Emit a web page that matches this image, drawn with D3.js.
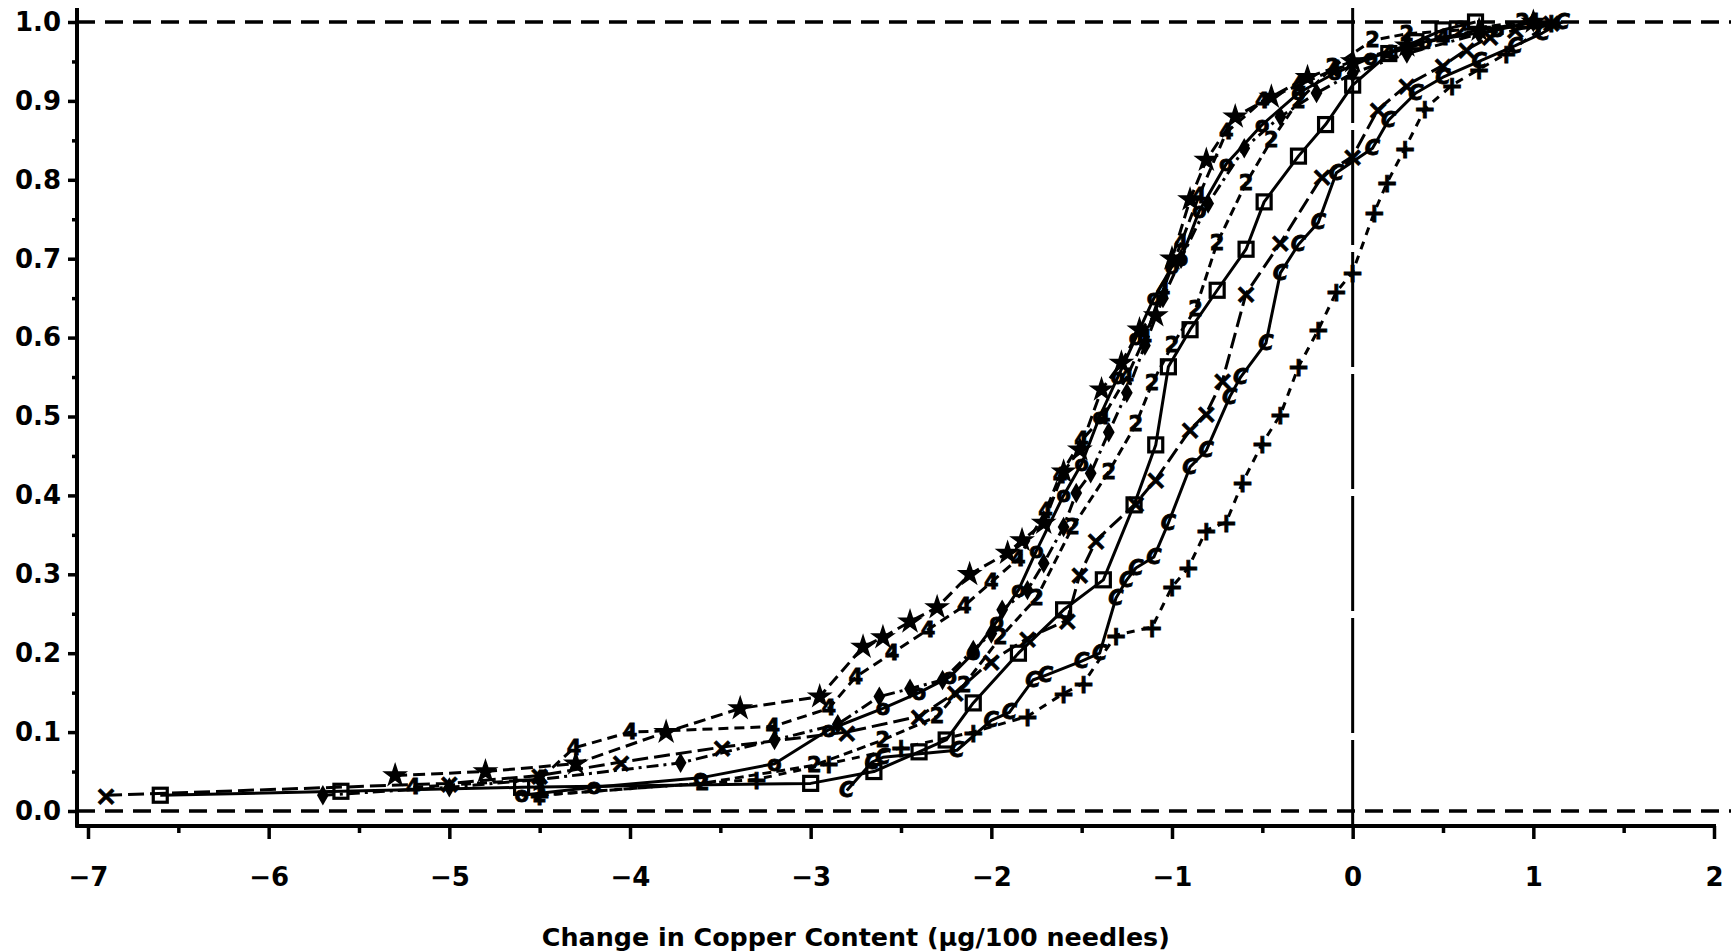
<!DOCTYPE html>
<html>
<head>
<meta charset="utf-8">
<script src="https://cdn.jsdelivr.net/npm/d3@7"></script>
<style>
  html, body { margin: 0; padding: 0; background: #fff; }
  svg { display: block; }
</style>
</head>
<body>
<svg id="chart" width="1731" height="951"></svg>
<script>
// ---------- data ----------
const xTickValues = [-7, -6, -5, -4, -3, -2, -1, 0, 1, 2];
const xMinorValues = [-6.5, -5.5, -4.5, -3.5, -2.5, -1.5, -0.5, 0.5, 1.5];
const yTickValues = [0, 0.1, 0.2, 0.3, 0.4, 0.5, 0.6, 0.7, 0.8, 0.9, 1.0];
const yMinorValues = [0.05, 0.15, 0.25, 0.35, 0.45, 0.55, 0.65, 0.75, 0.85, 0.95];
const xTitle = "Change in Copper Content (\u00b5g/100 needles)";

// "+" series (dashed)
const plusX = [-4.5, -3.3, -2.9, -2.5, -2.1, -1.8, -1.6, -1.49, -1.31, -1.11, -1.0, -0.91, -0.81, -0.70, -0.61, -0.50, -0.40, -0.30, -0.19, -0.09, 0.0, 0.12, 0.19, 0.29, 0.40, 0.55, 0.70, 0.85, 1.1];
const plusY = [0.02, 0.04, 0.06, 0.08, 0.10, 0.12, 0.149, 0.162, 0.223, 0.233, 0.284, 0.308, 0.356, 0.366, 0.416, 0.466, 0.502, 0.563, 0.61, 0.658, 0.683, 0.759, 0.796, 0.84, 0.89, 0.92, 0.94, 0.96, 1.0];
// "C" series (solid)
const cX = [-2.80, -2.66, -2.60, -2.19, -2.00, -1.90, -1.77, -1.70, -1.50, -1.40, -1.31, -1.25, -1.20, -1.10, -1.02, -0.90, -0.81, -0.68, -0.62, -0.48, -0.40, -0.30, -0.19, -0.09, 0.11, 0.20, 0.35, 0.50, 0.70, 0.90, 1.05, 1.16];
const cY = [0.026, 0.062, 0.068, 0.077, 0.115, 0.125, 0.166, 0.172, 0.19, 0.20, 0.27, 0.293, 0.308, 0.322, 0.365, 0.436, 0.457, 0.525, 0.55, 0.593, 0.682, 0.718, 0.746, 0.809, 0.84, 0.876, 0.91, 0.93, 0.95, 0.97, 0.986, 1.0];
// "X" series (long dash)
const xsX = [-6.9, -5.0, -4.5, -4.05, -3.49, -2.8, -2.4, -2.2, -2.0, -1.8, -1.58, -1.51, -1.42, -1.2, -1.09, -0.9, -0.81, -0.72, -0.59, -0.40, -0.17, 0.0, 0.14, 0.30, 0.5, 0.63, 0.76, 0.9, 1.1];
const xsY = [0.02, 0.035, 0.045, 0.062, 0.081, 0.10, 0.12, 0.15, 0.19, 0.219, 0.242, 0.30, 0.343, 0.39, 0.42, 0.483, 0.504, 0.546, 0.656, 0.72, 0.804, 0.83, 0.889, 0.92, 0.945, 0.965, 0.981, 0.99, 1.0];
// square series (solid)
const sqX = [-6.6, -5.6, -4.6, -3.0, -2.65, -2.4, -2.25, -2.1, -1.85, -1.6, -1.38, -1.21, -1.09, -1.02, -0.9, -0.75, -0.59, -0.49, -0.30, -0.15, 0.0, 0.2, 0.35, 0.5, 0.68];
const sqY = [0.02, 0.025, 0.03, 0.035, 0.05, 0.075, 0.09, 0.137, 0.2, 0.255, 0.293, 0.388, 0.464, 0.563, 0.61, 0.66, 0.712, 0.772, 0.83, 0.87, 0.92, 0.96, 0.975, 0.99, 1.0];
// "2" series (dashed)
const twoX = [-4.5, -3.6, -2.98, -2.6, -2.3, -2.15, -1.95, -1.75, -1.55, -1.35, -1.2, -1.11, -1.0, -0.87, -0.75, -0.59, -0.45, -0.3, -0.11, 0.11, 0.3, 0.6, 0.94];
const twoY = [0.02, 0.035, 0.058, 0.09, 0.12, 0.16, 0.22, 0.27, 0.36, 0.43, 0.49, 0.542, 0.59, 0.636, 0.72, 0.796, 0.85, 0.9, 0.943, 0.977, 0.985, 0.99, 1.0];
// star series (dashed, upper left)
const starX = [-5.3, -4.8, -4.3, -3.8, -3.39, -2.95, -2.71, -2.6, -2.45, -2.3, -2.12, -1.91, -1.83, -1.71, -1.6, -1.51, -1.39, -1.28, -1.18, -1.09, -1.0, -0.9, -0.81, -0.65, -0.45, -0.25, 0.0, 0.3, 0.7, 1.0];
const starY = [0.045, 0.05, 0.06, 0.10, 0.13, 0.145, 0.208, 0.22, 0.24, 0.258, 0.30, 0.327, 0.343, 0.365, 0.43, 0.458, 0.534, 0.568, 0.61, 0.628, 0.70, 0.775, 0.825, 0.88, 0.905, 0.93, 0.95, 0.97, 0.99, 1.0];
// "4" series (dashed)
const fourX = [-5.2, -4.5, -4.31, -4.0, -3.21, -2.9, -2.75, -2.55, -2.35, -2.15, -2.0, -1.85, -1.7, -1.62, -1.5, -1.38, -1.25, -1.15, -1.05, -0.95, -0.85, -0.7, -0.5, -0.3, -0.1, 0.2, 0.5, 1.0];
const fourY = [0.03, 0.04, 0.08, 0.10, 0.107, 0.13, 0.17, 0.20, 0.23, 0.26, 0.29, 0.32, 0.38, 0.425, 0.47, 0.50, 0.55, 0.60, 0.66, 0.72, 0.78, 0.86, 0.90, 0.92, 0.94, 0.96, 0.98, 1.0];
// diamond series (dash-dot)
const dmX = [-5.7, -5.0, -4.5, -3.72, -3.2, -2.85, -2.62, -2.45, -2.27, -2.1, -2.0, -1.94, -1.8, -1.71, -1.6, -1.53, -1.45, -1.35, -1.25, -1.15, -1.05, -0.95, -0.8, -0.6, -0.4, -0.2, 0.0, 0.3, 0.7, 1.0];
const dmY = [0.02, 0.03, 0.04, 0.061, 0.09, 0.11, 0.145, 0.155, 0.166, 0.204, 0.225, 0.255, 0.28, 0.314, 0.36, 0.403, 0.428, 0.48, 0.53, 0.59, 0.65, 0.70, 0.77, 0.84, 0.88, 0.91, 0.935, 0.96, 0.985, 1.0];
// "o" series (solid)
const oX = [-4.6, -4.2, -3.61, -3.2, -2.9, -2.6, -2.4, -2.23, -2.1, -1.97, -1.85, -1.75, -1.6, -1.5, -1.4, -1.3, -1.2, -1.1, -1.0, -0.95, -0.85, -0.7, -0.5, -0.3, -0.1, 0.1, 0.4, 0.8, 1.0];
const oY = [0.02, 0.03, 0.042, 0.06, 0.103, 0.13, 0.15, 0.17, 0.20, 0.24, 0.28, 0.33, 0.40, 0.44, 0.50, 0.55, 0.60, 0.65, 0.69, 0.70, 0.76, 0.82, 0.87, 0.91, 0.935, 0.955, 0.975, 0.99, 1.0];

// ---------- series table built from the arrays ----------
const series = [
  { xs: starX, ys: starY, mark: "star", dash: "12,6" },
  { xs: fourX, ys: fourY, mark: "4", dash: "10,6" },
  { xs: dmX, ys: dmY, mark: "diamond", dash: "12,5,3,5" },
  { xs: twoX, ys: twoY, mark: "2", dash: "9,5" },
  { xs: oX, ys: oY, mark: "o", dash: null },
  { xs: sqX, ys: sqY, mark: "square", dash: null },
  { xs: xsX, ys: xsY, mark: "\u00d7", dash: "16,6" },
  { xs: cX, ys: cY, mark: "C", dash: null },
  { xs: plusX, ys: plusY, mark: "+", dash: "8,7" }
];

// ---------- drawing ----------
const svg = d3.select("#chart");
const FONT = "'DejaVu Sans', 'Liberation Sans', sans-serif";
const x = d3.scaleLinear().domain([-7, 2]).range([88, 1714]);
const y = d3.scaleLinear().domain([0, 1]).range([811, 22]);
const axisX0 = 77, axisY0 = 826;

// reference lines at 0 and 1
svg.append("g").selectAll("line").data([0, 1]).join("line")
  .attr("x1", axisX0).attr("x2", 1731)
  .attr("y1", d => y(d)).attr("y2", d => y(d))
  .attr("stroke", "#000").attr("stroke-width", 3.5)
  .attr("stroke-dasharray", "18,10");
// vertical line at 0
svg.append("line")
  .attr("x1", x(0)).attr("x2", x(0))
  .attr("y1", 8).attr("y2", axisY0)
  .attr("stroke", "#000").attr("stroke-width", 3)
  .attr("stroke-dasharray", "115,7");

// axes
const gy = svg.append("g").attr("transform", `translate(${axisX0},0)`);
gy.call(d3.axisLeft(y).tickValues(yTickValues).tickSize(9).tickPadding(7).tickFormat(d3.format(".1f")));
const gym = svg.append("g").attr("transform", `translate(${axisX0},0)`);
gym.call(d3.axisLeft(y).tickValues(yMinorValues).tickSize(5).tickFormat(""));
const gx = svg.append("g").attr("transform", `translate(0,${axisY0})`);
gx.call(d3.axisBottom(x).tickValues(xTickValues).tickSize(13).tickPadding(29).tickFormat(d => d < 0 ? "\u2212" + Math.abs(d) : d));
const gxm = svg.append("g").attr("transform", `translate(0,${axisY0})`);
gxm.call(d3.axisBottom(x).tickValues(xMinorValues).tickSize(7).tickFormat(""));

[gy, gym, gx, gxm].forEach(g => {
  g.select(".domain").remove();
  g.selectAll(".tick line").attr("stroke", "#000").attr("stroke-width", 3.5);
  g.selectAll("text").attr("fill", "#000").attr("font-family", FONT)
    .attr("font-weight", "bold").attr("font-size", 26);
});
// axis lines
svg.append("line").attr("x1", axisX0).attr("x2", axisX0).attr("y1", 8).attr("y2", axisY0 + 1.5)
  .attr("stroke", "#000").attr("stroke-width", 4);
svg.append("line").attr("x1", axisX0 - 1.5).attr("x2", x(2) + 2).attr("y1", axisY0).attr("y2", axisY0)
  .attr("stroke", "#000").attr("stroke-width", 4);

// x title
svg.append("text").attr("x", x(-2.75)).attr("y", 946)
  .attr("text-anchor", "middle").attr("font-family", FONT).attr("font-weight", "bold")
  .attr("font-size", 24).attr("textLength", 628).attr("lengthAdjust", "spacingAndGlyphs")
  .text(xTitle);

// series lines
const line = d3.line().x(d => x(d[0])).y(d => y(d[1]));
const gs = svg.append("g");
series.forEach(s => {
  const pts = s.xs.map((v, i) => [v, s.ys[i]]);
  gs.append("path").datum(pts).attr("d", line)
    .attr("fill", "none").attr("stroke", "#000").attr("stroke-width", 3)
    .attr("stroke-linejoin", "round")
    .attr("stroke-dasharray", s.dash);
});
// markers
const gm = svg.append("g");
series.forEach(s => {
  const pts = s.xs.map((v, i) => [v, s.ys[i]]);
  const sel = gm.append("g");
  if (s.mark === "square") {
    sel.selectAll("rect").data(pts).join("rect")
      .attr("x", d => x(d[0]) - 7).attr("y", d => y(d[1]) - 7)
      .attr("width", 14).attr("height", 14)
      .attr("fill", "none").attr("stroke", "#000").attr("stroke-width", 3.2);
  } else if (s.mark === "diamond") {
    sel.selectAll("path").data(pts).join("path")
      .attr("d", d3.symbol(d3.symbolDiamond, 120)())
      .attr("transform", d => `translate(${x(d[0])},${y(d[1])})`)
      .attr("fill", "#000");
  } else if (s.mark === "star") {
    sel.selectAll("path").data(pts).join("path")
      .attr("d", d3.symbol(d3.symbolStar, 140)())
      .attr("transform", d => `translate(${x(d[0])},${y(d[1])})`)
      .attr("fill", "#000").attr("stroke", "#000").attr("stroke-width", 1.5);
  } else {
    sel.selectAll("text").data(pts).join("text")
      .attr("x", d => x(d[0])).attr("y", d => y(d[1]))
      .attr("text-anchor", "middle").attr("dominant-baseline", "central")
      .attr("font-family", FONT).attr("font-weight", "bold")
      .attr("font-size", (s.mark === "\u00d7" || s.mark === "+") ? 27 : 21)
      .attr("font-style", s.mark === "C" ? "italic" : "normal")
      .attr("fill", "#000").attr("stroke", "#000").attr("stroke-width", 0.8)
      .text(s.mark);
  }
});
</script>
</body>
</html>
